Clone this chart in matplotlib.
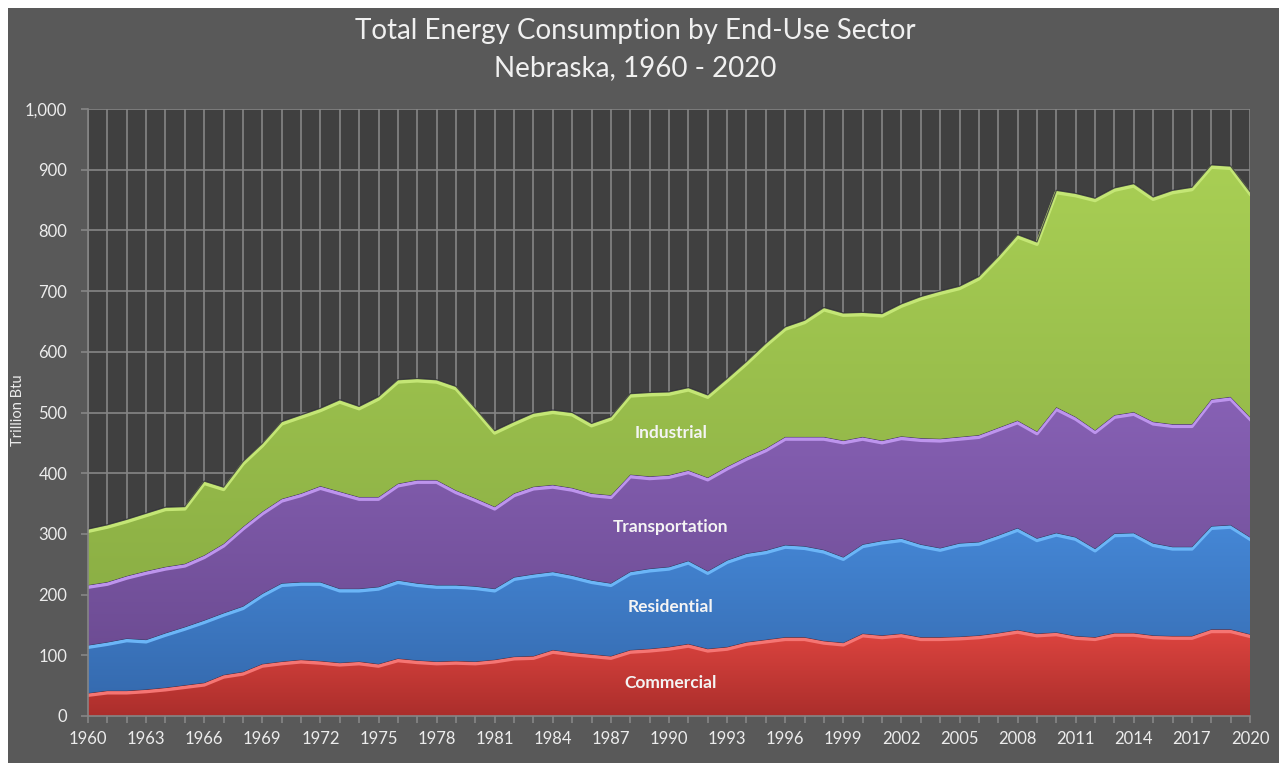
import matplotlib
matplotlib.use("Agg")
import matplotlib.pyplot as plt
import matplotlib.transforms as mtransforms
from matplotlib.patches import Rectangle
from matplotlib.ticker import FuncFormatter, MultipleLocator, FixedLocator
import numpy as np

plt.rcParams['font.family'] = ['Lato', 'DejaVu Sans']

# Nebraska energy consumption by end-use sector, trillion Btu
years = list(range(1960, 2021))
commercial = [38, 42, 42, 44, 47, 51, 55, 68, 73, 86,
              90, 93, 91, 88, 90, 86, 95, 92, 90, 91,
              90, 93, 98, 99, 109, 105, 102, 99, 109, 111,
              114, 119, 111, 114, 122, 126, 130, 130, 124, 121,
              136, 133, 136, 130, 130, 131, 133, 137, 142, 136,
              138, 132, 130, 137, 137, 133, 132, 132, 143, 143,
              135]
residential = [79, 80, 86, 82, 90, 96, 103, 102, 108, 116,
               129, 128, 130, 122, 120, 127, 129, 127, 126, 125,
               124, 117, 131, 135, 129, 127, 122, 120, 129, 132,
               132, 137, 128, 143, 146, 147, 152, 150, 150, 141,
               147, 156, 157, 153, 147, 154, 154, 161, 168, 157,
               164, 163, 146, 164, 165, 152, 147, 147, 170, 172,
               160]
transportation = [99, 99, 103, 113, 109, 104, 107, 114, 131, 135,
                  139, 146, 158, 160, 151, 148, 159, 170, 173, 156,
                  145, 135, 138, 144, 143, 144, 143, 145, 160, 152,
                  151, 149, 154, 154, 159, 168, 178, 180, 186, 192,
                  177, 165, 168, 175, 180, 175, 176, 177, 177, 176,
                  207, 198, 195, 195, 199, 200, 202, 202, 209, 211,
                  198]
industrial = [92, 94, 93, 95, 98, 94, 122, 93, 107, 112,
              127, 129, 128, 151, 149, 165, 171, 167, 165, 171,
              148, 125, 118, 121, 123, 124, 115, 129, 133, 138,
              137, 136, 136, 145, 157, 173, 181, 192, 213, 210,
              205, 209, 218, 233, 243, 248, 261, 282, 306, 312,
              357, 368, 382, 374, 376, 370, 385, 390, 386, 380,
              371]

sectors = ['Commercial', 'Residential', 'Transportation', 'Industrial']
series = [commercial, residential, transportation, industrial]
# top colour, bottom colour, highlight on the upper edge
styles = [
    ((0.87, 0.27, 0.25), (0.67, 0.18, 0.17), (0.96, 0.46, 0.45)),
    ((0.27, 0.53, 0.84), (0.21, 0.42, 0.69), (0.42, 0.71, 0.97)),
    ((0.53, 0.38, 0.71), (0.43, 0.30, 0.58), (0.74, 0.58, 0.93)),
    ((0.66, 0.81, 0.33), (0.55, 0.69, 0.27), (0.77, 0.90, 0.46)),
]
label_pos = [54, 180, 311, 466]

fig = plt.figure(figsize=(12.79, 7.63), dpi=100, facecolor='white')
fig.patches.append(Rectangle((8 / 1279, 0), 1 - 8 / 1279, 1 - 8 / 763,
                             transform=fig.transFigure, facecolor='#595959',
                             edgecolor='none', zorder=-5))
ax = fig.add_axes([88 / 1279, 1 - 716 / 763, (1250 - 88) / 1279, (716 - 109) / 763])
ax.set_facecolor('#404040')

x = np.array(years, dtype=float)
base = np.zeros(len(years))
shadow = mtransforms.offset_copy(ax.transData, fig=fig, x=0, y=-1.6, units='points')
for i, (vals, (c_top, c_bot, c_hi)) in enumerate(zip(series, styles)):
    top = base + np.array(vals, dtype=float)
    poly = ax.fill_between(x, base, top, facecolor=c_bot, edgecolor='none',
                           zorder=2 + i * 0.1)
    grad = np.linspace(0, 1, 256)[:, None, None]
    img = grad * np.array(c_top) + (1 - grad) * np.array(c_bot)
    im = ax.imshow(img, extent=[x[0], x[-1], base.min(), top.max()],
                   origin='lower', aspect='auto', interpolation='bilinear',
                   zorder=2 + i * 0.1 + 0.01)
    im.set_clip_path(poly.get_paths()[0], transform=ax.transData)
    ax.plot(x, top, color=c_hi, lw=2.6, transform=shadow,
            solid_joinstyle='round', zorder=2 + i * 0.1 + 0.02, clip_on=True)
    ax.plot(x, top, color=(0.15, 0.13, 0.22), lw=0.9, alpha=0.75,
            zorder=2 + i * 0.1 + 0.03)
    base = top

for name, ypos in zip(sectors, label_pos):
    ax.text(1990.1, ypos, name, ha='center', va='center', color='#f4f4f4',
            fontsize=12.5, fontweight='bold', zorder=10)

ax.set_xlim(1960, 2020)
ax.set_ylim(0, 1000)
ax.xaxis.set_major_locator(FixedLocator(years[::3]))
ax.xaxis.set_minor_locator(FixedLocator(years))
ax.yaxis.set_major_locator(MultipleLocator(100))
ax.yaxis.set_major_formatter(FuncFormatter(lambda v, p: f'{int(v):,}'))
ax.grid(which='both', axis='x', color='#868686', lw=1.2, zorder=1)
ax.grid(which='major', axis='y', color='#868686', lw=1.2, zorder=1)
ax.set_axisbelow(True)

for s in ['top', 'right']:
    ax.spines[s].set_visible(False)
for s in ['left', 'bottom']:
    ax.spines[s].set_color('#868686')
    ax.spines[s].set_linewidth(1.2)
    ax.spines[s].set_zorder(5)
ax.tick_params(which='both', colors='#868686', length=5, width=1.2)
ax.tick_params(axis='both', labelcolor='#ececec', labelsize=12)
ax.tick_params(axis='x', pad=6)
ax.tick_params(axis='y', pad=10)

ax.set_ylabel('Trillion Btu', color='#ececec', fontsize=10.5)
ax.yaxis.set_label_coords(-0.054, 0.504)

fig.text(0.497, 1 - 31 / 763, 'Total Energy Consumption by End-Use Sector',
         ha='center', va='center', color='#f0f0f0', fontsize=20)
fig.text(0.497, 1 - 68 / 763, 'Nebraska, 1960 - 2020',
         ha='center', va='center', color='#f0f0f0', fontsize=20)

fig.savefig('out.png', dpi=100, facecolor=fig.get_facecolor())
